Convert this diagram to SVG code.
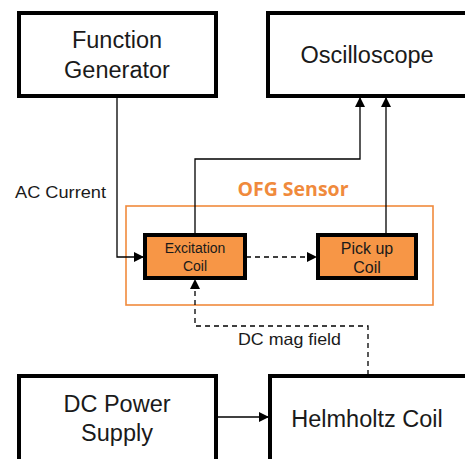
<svg xmlns="http://www.w3.org/2000/svg" width="465" height="459" viewBox="0 0 465 459">
  <defs>
    <marker id="arrow" viewBox="0 0 10 10" refX="10" refY="5" markerWidth="10" markerHeight="10" markerUnits="userSpaceOnUse" orient="auto">
      <path d="M0,0 L10,5 L0,10 z" fill="#000"/>
    </marker>
    <style>
      .box { fill: #fff; stroke: #000; stroke-width: 4; }
      .coil { fill: #F79646; stroke: #000; stroke-width: 4; }
      .label { font-family: "Liberation Sans", Arial, sans-serif; fill: #1a1a1a; text-anchor: middle; }
      .big { font-size: 23.5px; }
      .wire { fill: none; stroke: #000; stroke-width: 1.3; }
      .dash { fill: none; stroke: #000; stroke-width: 1.3; stroke-dasharray: 5 4; }
    </style>
  </defs>
  <rect width="465" height="459" fill="#fff"/>

  <!-- sensor enclosure -->
  <g id="ofg-sensor">
    <rect x="126" y="206" width="307" height="99" fill="none" stroke="#F08A3C" stroke-width="1.6"/>
    <text x="293" y="196" font-family="'Open Sans', 'Noto Sans', sans-serif" font-weight="bold" font-size="19" fill="#F08A3C" text-anchor="middle" textLength="111" lengthAdjust="spacingAndGlyphs">OFG Sensor</text>
  </g>

  <!-- connectors -->
  <g id="connectors">
    <path class="wire" d="M117,97 V257 H144" marker-end="url(#arrow)"/>
    <path class="wire" d="M195,234 V159 H360 V97" marker-end="url(#arrow)"/>
    <path class="wire" d="M386,234 V97" marker-end="url(#arrow)"/>
    <path class="dash" d="M246,257 H317" marker-end="url(#arrow)"/>
    <path class="dash" d="M368,375 V326 H195 V279" marker-end="url(#arrow)"/>
    <path class="wire" d="M217,417 H269" marker-end="url(#arrow)"/>
    <text class="label" x="60.5" y="198" font-size="16.5" textLength="91" lengthAdjust="spacingAndGlyphs">AC Current</text>
    <text class="label" x="289.5" y="345" font-size="16.5" textLength="103" lengthAdjust="spacingAndGlyphs">DC mag field</text>
  </g>

  <g id="function-generator">
    <rect class="box" x="19" y="13" width="197" height="83"/>
    <text class="label big" x="117" y="48">Function</text>
    <text class="label big" x="117" y="78">Generator</text>
  </g>

  <g id="oscilloscope">
    <rect class="box" x="268" y="13" width="200" height="83"/>
    <text class="label big" x="367" y="63">Oscilloscope</text>
  </g>

  <g id="excitation-coil">
    <rect class="coil" x="145" y="235" width="100" height="43"/>
    <text class="label" x="195" y="253" font-size="14">Excitation</text>
    <text class="label" x="195" y="271" font-size="14">Coil</text>
  </g>

  <g id="pickup-coil">
    <rect class="coil" x="318" y="235" width="98" height="43"/>
    <text class="label" x="367" y="254" font-size="16">Pick up</text>
    <text class="label" x="367" y="273" font-size="16">Coil</text>
  </g>

  <g id="dc-power-supply">
    <rect class="box" x="19" y="376" width="197" height="90"/>
    <text class="label big" x="117" y="412">DC Power</text>
    <text class="label big" x="117" y="441">Supply</text>
  </g>

  <g id="helmholtz-coil">
    <rect class="box" x="270" y="376" width="200" height="90"/>
    <text class="label big" x="367" y="427">Helmholtz Coil</text>
  </g>
</svg>
